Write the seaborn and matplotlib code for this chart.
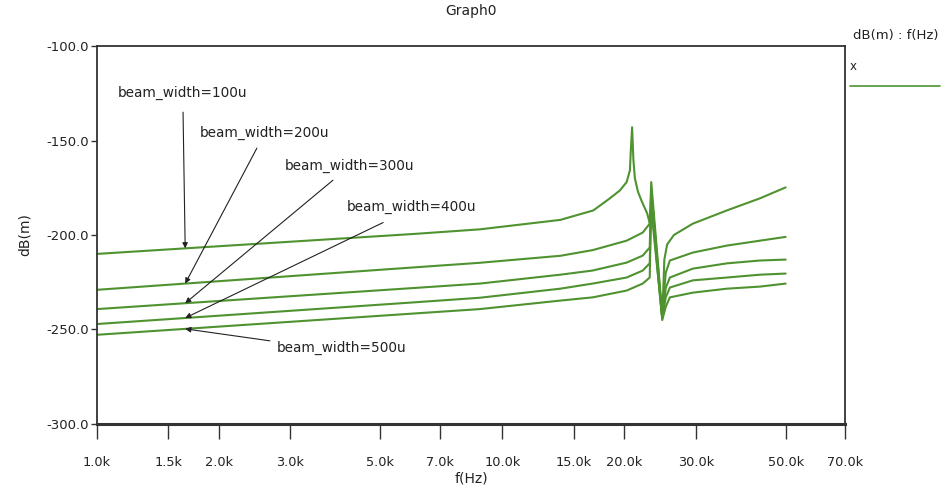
import numpy as np
import pandas as pd
import matplotlib
matplotlib.use("Agg")
import matplotlib.pyplot as plt
import seaborn as sns
from matplotlib.lines import Line2D
from matplotlib.ticker import FixedLocator, FixedFormatter, NullLocator

# ---------------- data ----------------
freq_100u = [1000, 6090, 8800, 13900, 16760, 18420, 19500, 20260, 20640,
             20750, 20900, 21050, 21230, 21600, 22060, 22770, 23120, 23400, 24800,
             25100, 25500, 26500, 29500, 35800, 43200, 50000]
db_100u = [-210, -199.4, -197, -192, -187, -180.6, -176.4, -172, -165.8,
           -155, -143, -160, -170, -177, -182, -188.6, -194, -190, -244,
           -213, -205, -200, -194, -187, -180.6, -174.8]

freq_common = [1000, 6090, 8800, 13900, 16700, 20260, 22200, 23100, 23300,
               24800, 25300, 25900, 29500, 35800, 43200, 50000]
db_200u = [-229, -217.1, -214.7, -211, -208, -203, -198.7, -194, -172,
           -242, -220, -213.5, -209.3, -205.6, -203, -201]
db_300u = [-239.2, -228, -225.7, -221, -218.8, -214.6, -210.9, -206.6, -176,
           -243, -228, -222.5, -217.8, -215, -213.5, -213]
db_400u = [-247.1, -235.6, -233.2, -228.4, -225.7, -222.5, -218.8, -215, -179,
           -244, -233, -227.8, -224, -222.5, -221, -220.4]
db_500u = [-252.8, -241.5, -239.2, -234.7, -233, -229.4, -225.7, -222.5, -182,
           -245, -238, -233, -230.5, -228.4, -227.3, -225.7]

series_names = ["beam_width=100u", "beam_width=200u", "beam_width=300u",
                "beam_width=400u", "beam_width=500u"]

x_ticks = [1000, 1500, 2000, 3000, 5000, 7000, 10000, 15000, 20000, 30000, 50000, 70000]
x_tick_labels = ["1.0k", "1.5k", "2.0k", "3.0k", "5.0k", "7.0k", "10.0k",
                 "15.0k", "20.0k", "30.0k", "50.0k", "70.0k"]
y_ticks = [-100, -150, -200, -250, -300]
y_tick_labels = ["-100.0", "-150.0", "-200.0", "-250.0", "-300.0"]

# ---------------- build table ----------------
frames = [pd.DataFrame({"f": freq_100u, "dB": db_100u, "series": series_names[0]})]
for name, vals in zip(series_names[1:], [db_200u, db_300u, db_400u, db_500u]):
    frames.append(pd.DataFrame({"f": freq_common, "dB": vals, "series": name}))
df = pd.concat(frames, ignore_index=True)

# ---------------- style ----------------
sns.set_theme(style="white")
plt.rcParams["font.family"] = ["DejaVu Sans"]
GREEN = "#4f9330"
TXT = "#222222"

fig = plt.figure(figsize=(9.44, 4.97), dpi=100)
ax = fig.add_axes([0.1028, 0.1469, 0.895 - 0.1028, 0.9074 - 0.1469])

sns.lineplot(data=df, x="f", y="dB", hue="series", palette=[GREEN] * 5,
             estimator=None, sort=False, legend=False, linewidth=1.5, ax=ax)

ax.set_xscale("log")
ax.set_xlim(1000, 70000)
ax.set_ylim(-300, -100)
ax.xaxis.set_major_locator(FixedLocator(x_ticks))
ax.xaxis.set_major_formatter(FixedFormatter(x_tick_labels))
ax.xaxis.set_minor_locator(NullLocator())
ax.yaxis.set_major_locator(FixedLocator(y_ticks))
ax.yaxis.set_major_formatter(FixedFormatter(y_tick_labels))
ax.tick_params(axis="x", direction="out", length=11, width=1, color="#333333",
               labelsize=9.3, pad=12, bottom=True, labelcolor=TXT)
ax.tick_params(axis="y", direction="out", length=4, width=1, color="#333333",
               labelsize=9.5, pad=2, left=True, labelcolor=TXT)
for sp in ax.spines.values():
    sp.set_color("#333333")
    sp.set_linewidth(1.3)
    sp.set_visible(True)
ax.spines["bottom"].set_linewidth(2.2)
ax.set_xlabel("f(Hz)", fontsize=10, labelpad=2, color=TXT)
ax.set_ylabel("dB(m)", fontsize=10, labelpad=10, color=TXT)
ax.set_title("Graph0", fontsize=10, pad=22, color=TXT)
ax.grid(False)

# ---------------- annotations ----------------
text_pos = [(1127, -125), (1795, -146), (2910, -163.7), (4140, -184.9), (2780, -259.7)]
arrow_start = [(1630, -135), (2480, -154), (3820, -171), (5080, -193.4), (2670, -256)]
arrow_f = 1650
for name, (tx, ty), (sx, sy) in zip(series_names, text_pos, arrow_start):
    sub = df[df["series"] == name]
    ty_target = np.interp(np.log10(arrow_f), np.log10(sub["f"].values), sub["dB"].values)
    ax.text(tx, ty, name, fontsize=9.8, ha="left", va="center", color=TXT)
    ax.annotate("", xy=(arrow_f, ty_target), xytext=(sx, sy),
                arrowprops=dict(arrowstyle="-|>", color=TXT, lw=0.8,
                                mutation_scale=8, shrinkA=0, shrinkB=0))

# ---------------- legend-like key at right ----------------
fig.text(896 / 944, 1 - 35 / 497, "dB(m) : f(Hz)", fontsize=9.5, ha="center", va="center",
         color=TXT)
fig.text(850 / 944, 1 - 67 / 497, "x", fontsize=8.5, ha="left", va="center", color=TXT)
fig.add_artist(Line2D([850 / 944, 940 / 944], [1 - 86 / 497, 1 - 86 / 497],
                      color=GREEN, lw=1.2, transform=fig.transFigure))

fig.savefig("out.png", dpi=100, facecolor="white")
